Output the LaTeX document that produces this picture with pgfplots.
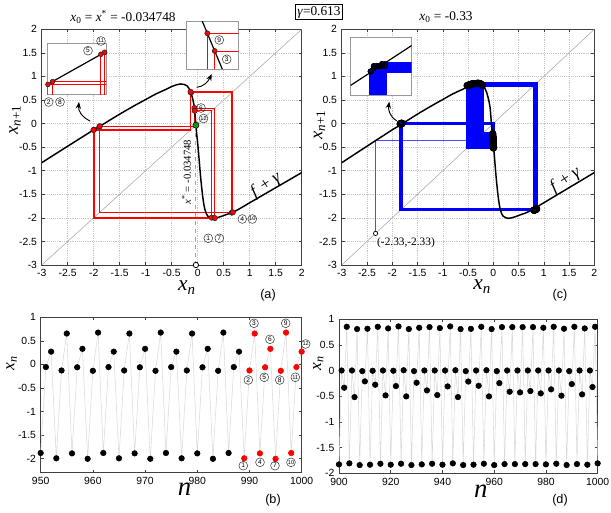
\documentclass[border=0pt]{standalone}
\usepackage{pgfplots}
\pgfplotsset{compat=1.18}
\usepackage{pgfplotstable}
\usepackage{fontspec}
\setmainfont{Liberation Serif}
\newfontfamily\arial{Liberation Sans}
\usetikzlibrary{arrows.meta}

\definecolor{dgreen}{RGB}{120,190,120}
\definecolor{gdot}{RGB}{20,150,20}

% map f + gamma
\pgfplotstableread{
x y
-3 -0.83
-2.5 -0.48
-2.0 -0.133
-1.88 -0.056
-1.5 0.2
-1.2 0.39
-1.0 0.51
-0.8 0.63
-0.6 0.73
-0.5 0.785
-0.4 0.825
-0.33 0.84
-0.26 0.83
-0.2 0.795
-0.165 0.74
-0.137 0.675
-0.13 0.655
-0.11 0.58
-0.085 0.47
-0.062 0.33
-0.057 0.27
-0.048 0.15
-0.035 -0.035
-0.02 -0.22
0 -0.42
0.03 -0.8
0.06 -1.18
0.1 -1.58
0.14 -1.83
0.19 -1.96
0.25 -2.0
0.3 -2.01
0.36 -2.0
0.45 -1.97
0.55 -1.93
0.665 -1.886
0.8 -1.81
1.0 -1.68
1.5 -1.36
2.0 -1.04
}\curve

% orbit of panel (b): n, x_n, x_{n+1}
\pgfplotstableread{
n x xn
950 -1.882 -0.057
951 -0.057 0.270
952 0.270 -1.995
953 -1.995 -0.130
954 -0.130 0.655
955 0.655 -1.890
956 -1.890 -0.062
957 -0.062 0.330
958 0.330 -2.005
959 -2.005 -0.137
960 -0.137 0.675
961 0.675 -1.882
962 -1.882 -0.057
963 -0.057 0.270
964 0.270 -1.995
965 -1.995 -0.130
966 -0.130 0.655
967 0.655 -1.890
968 -1.890 -0.062
969 -0.062 0.330
970 0.330 -2.005
971 -2.005 -0.137
972 -0.137 0.675
973 0.675 -1.882
974 -1.882 -0.057
975 -0.057 0.270
976 0.270 -1.995
977 -1.995 -0.130
978 -0.130 0.655
979 0.655 -1.890
980 -1.890 -0.062
981 -0.062 0.330
982 0.330 -2.005
983 -2.005 -0.137
984 -0.137 0.675
985 0.675 -1.882
986 -1.882 -0.057
987 -0.057 0.270
988 0.270 -1.995
989 -1.995 -0.130
990 -0.130 0.655
991 0.655 -1.890
992 -1.890 -0.062
993 -0.062 0.330
994 0.330 -2.005
995 -2.005 -0.137
996 -0.137 0.675
997 0.675 -1.882
998 -1.882 -0.057
999 -0.057 0.270
1000 0.270 nan
}\seqb

% orbit of panel (d): n, x_n, x_{n+1}
\pgfplotstableread{
n x xn
900 -1.826 0.000
901 0.000 -0.335
902 -0.335 0.850
903 0.850 -1.806
904 -1.806 0.000
905 0.000 -0.517
906 -0.517 0.806
907 0.806 -1.839
908 -1.839 -0.012
909 -0.012 -0.212
910 -0.212 0.812
911 0.812 -1.832
912 -1.832 -0.005
913 -0.005 -0.277
914 -0.277 0.850
915 0.850 -1.813
916 -1.813 0.000
917 0.000 -0.484
918 -0.484 0.818
919 0.818 -1.832
920 -1.832 -0.005
921 -0.005 -0.303
922 -0.303 0.857
923 0.857 -1.813
924 -1.813 0.005
925 0.005 -0.504
926 -0.504 0.806
927 0.806 -1.839
928 -1.839 -0.012
929 -0.012 -0.238
930 -0.238 0.831
931 0.831 -1.826
932 -1.826 0.000
933 0.000 -0.387
934 -0.387 0.844
935 0.844 -1.813
936 -1.813 0.000
937 0.000 -0.478
938 -0.478 0.825
939 0.825 -1.832
940 -1.832 0.000
941 0.000 -0.310
942 -0.310 0.857
943 0.857 -1.806
944 -1.806 0.005
945 0.005 -0.517
946 -0.517 0.806
947 0.806 -1.839
948 -1.839 -0.012
949 -0.012 -0.215
950 -0.215 0.810
951 0.810 -1.832
952 -1.832 0.000
953 0.000 -0.297
954 -0.297 0.850
955 0.850 -1.813
956 -1.813 0.005
957 0.005 -0.504
958 -0.504 0.806
959 0.806 -1.839
960 -1.839 -0.012
961 -0.012 -0.245
962 -0.245 0.844
963 0.844 -1.820
964 -1.820 0.000
965 0.000 -0.413
966 -0.413 0.844
967 0.844 -1.820
968 -1.820 0.000
969 0.000 -0.426
970 -0.426 0.844
971 0.844 -1.820
972 -1.820 0.000
973 0.000 -0.400
974 -0.400 0.844
975 0.844 -1.820
976 -1.820 0.000
977 0.000 -0.445
978 -0.445 0.831
979 0.831 -1.826
980 -1.826 0.000
981 0.000 -0.367
982 -0.367 0.850
983 0.850 -1.813
984 -1.813 0.000
985 0.000 -0.490
986 -0.490 0.812
987 0.812 -1.839
988 -1.839 -0.012
989 -0.012 -0.264
990 -0.264 0.850
991 0.850 -1.820
992 -1.820 0.000
993 0.000 -0.465
994 -0.465 0.818
995 0.818 -1.832
996 -1.832 0.000
997 0.000 -0.322
998 -0.322 0.850
999 0.850 -1.806
1000 -1.806 nan
}\seqd

\pgfplotsset{
  mbase/.style={
    scale only axis, anchor=south west,
    axis line style={black!75, line width=0.4pt},
    tick align=inside, major tick length=2.2pt,
    every tick/.style={black!75, line width=0.4pt},
    tick label style={font=\arial\fontsize{7.8}{9}\selectfont},
    /pgf/number format/assume math mode=true,
    /pgf/number format/1000 sep={},
    clip mode=individual,
  },
  mgrid/.style={grid=major, major grid style={densely dotted, gray!45, line width=0.4pt}},
  inset/.style={
    scale only axis, anchor=south west,
    xtick=\empty, ytick=\empty,
    axis line style={gray!80, line width=0.5pt},
    axis background/.style={fill=white},
  },
}
\tikzset{
  cn/.style={circle, draw=black!85, line width=0.35pt, inner sep=0pt, minimum size=6.6pt, font=\arial\fontsize{5}{5}\selectfont},
  cnn/.style={cn, font=\arial\fontsize{4.2}{4.2}\selectfont},
}

\begin{document}
\begin{tikzpicture}
\useasboundingbox (0,0) rectangle (458.25pt,384pt);

% ---------- (a) ----------
\begin{axis}[mbase, mgrid, at={(31.28pt,185.25pt)}, width=195pt, height=176.8pt,
  xmin=-3, xmax=2, ymin=-3, ymax=2,
  xtick={-3,-2.5,...,2}, ytick={-3,-2.5,...,2},
  xlabel={\textit{x}\textsubscript{\textit{n}}},
  xlabel style={at={(axis description cs:0.559,-0.095)}, anchor=center, font=\fontsize{16}{16}\selectfont},
  ylabel={\textit{x}\textsubscript{\textit{n}+1}},
  ylabel style={at={(axis description cs:-0.103,0.615)}, anchor=center, font=\fontsize{14}{14}\selectfont},
]
\addplot[gray!70, line width=0.4pt] coordinates {(-3,-3) (2,2)};
\addplot[red, line width=0.7pt, const plot] table[x=x, y=xn] {\seqb};
\addplot[black, line width=1.1pt, smooth, tension=0.5] table[x=x, y=y] {\curve};
\addplot[dgreen, dashed, line width=0.8pt] coordinates {(-0.034748,-3) (-0.034748,-0.034748)};
\addplot[only marks, mark=*, mark size=2pt, mark options={fill=red, draw=black!85, line width=0.4pt},
  restrict expr to domain={\thisrow{n}}{988:999}] table[x=x, y=xn] {\seqb};
\addplot[only marks, mark=*, mark size=2.3pt, mark options={fill=gdot, draw=black, line width=0.4pt}] coordinates {(-0.034748,-0.034748)};
\addplot[only marks, mark=*, mark size=2pt, mark options={fill=white, draw=black, line width=0.6pt}] coordinates {(-0.034748,-3)};
\end{axis}

% left inset of (a)
\begin{axis}[inset, at={(35.6pt,313.1pt)}, width=44.25pt, height=38.4pt,
  xmin=-2.006, xmax=-1.878, ymin=-0.162, ymax=-0.035]
\addplot[red, line width=0.7pt, const plot] table[x=x, y=xn] {\seqb};
\addplot[black, line width=0.9pt] coordinates {(-2.01,-0.1394) (-1.87,-0.0496)};
\addplot[only marks, mark=*, mark size=1.8pt, mark options={fill=red, draw=black!85, line width=0.4pt},
  restrict expr to domain={\thisrow{n}}{988:999}] table[x=x, y=xn] {\seqb};
\end{axis}

% right inset of (a)
\begin{axis}[inset, at={(140pt,332.25pt)}, width=38.7pt, height=35.5pt,
  xmin=-0.1565, xmax=-0.1077, ymin=0.6347, ymax=0.6881]
\addplot[red, line width=0.7pt, const plot] table[x=x, y=xn] {\seqb};
\addplot[black, line width=0.9pt] coordinates {(-0.16,0.7407) (-0.10,0.5693)};
\addplot[only marks, mark=*, mark size=1.9pt, mark options={fill=red, draw=black!85, line width=0.4pt},
  restrict expr to domain={\thisrow{n}}{988:999}] table[x=x, y=xn] {\seqb};
\end{axis}

% ---------- (c) ----------
\begin{axis}[mbase, mgrid, at={(256.3pt,185.25pt)}, width=189.45pt, height=176.8pt,
  xmin=-3, xmax=2, ymin=-3, ymax=2,
  xtick={-3,-2.5,...,2}, ytick={-3,-2.5,...,2},
  xlabel={\textit{x}\textsubscript{\textit{n}}},
  xlabel style={at={(axis description cs:0.556,-0.092)}, anchor=center, font=\fontsize{16}{16}\selectfont},
  ylabel={\textit{x}\textsubscript{\textit{n}+1}},
  ylabel style={at={(axis description cs:-0.088,0.594)}, anchor=center, font=\fontsize{14}{14}\selectfont},
]
\addplot[gray!70, line width=0.4pt] coordinates {(-3,-3) (2,2)};
\addplot[blue!70, line width=0.5pt] coordinates {(-2.33,-2.33) (-2.33,-0.35) (-0.35,-0.35)};
\addplot[blue, line width=1.6pt, const plot] table[x=x, y=xn] {\seqd};
\addplot[black, line width=1.1pt, smooth, tension=0.5] table[x=x, y=y] {\curve};
\addplot[only marks, mark=o, mark size=2.3pt, black, line width=0.8pt] table[x=x, y=xn] {\seqd};
\addplot[only marks, mark=*, mark size=1.6pt, mark options={fill=white, draw=black, line width=0.5pt}] coordinates {(-2.33,-2.33)};
\end{axis}

% inset of (c)
\begin{axis}[inset, at={(263pt,312.75pt)}, width=45.75pt, height=43.3pt,
  xmin=-1.885, xmax=-1.745, ymin=-0.065, ymax=0.065]
\addplot[blue, line width=2.6pt, const plot] table[x=x, y=xn] {\seqd};
\addplot[black, line width=0.9pt] coordinates {(-1.9,-0.053) (-1.73,0.056)};
\addplot[only marks, mark=o, mark size=1.8pt, black, line width=0.7pt] table[x=x, y=xn] {\seqd};
\end{axis}

% ---------- (b) ----------
\begin{axis}[mbase, at={(30.5pt,29.5pt)}, width=195.75pt, height=116.55pt,
  xmin=950, xmax=1000, ymin=-2.3, ymax=1,
  xtick={950,960,...,1000}, ytick={-2,-1.5,...,1},
  xlabel={\textit{n}},
  xlabel style={at={(axis description cs:0.551,-0.105)}, anchor=center, font=\fontsize{20}{20}\selectfont},
  ylabel={\textit{x}\textsubscript{\textit{n}}},
  ylabel style={at={(axis description cs:-0.111,0.706)}, anchor=center, font=\fontsize{13}{13}\selectfont},
]
\addplot[gray!30, line width=0.4pt] table[x=n, y=x] {\seqb};
\addplot[only marks, mark=*, mark size=2.1pt, black, restrict expr to domain={\thisrow{n}}{950:988}] table[x=n, y=x] {\seqb};
\addplot[only marks, mark=*, mark size=2.1pt, red, restrict expr to domain={\thisrow{n}}{989:1000}] table[x=n, y=x] {\seqb};
\end{axis}

% ---------- (d) ----------
\begin{axis}[mbase, at={(254.25pt,29pt)}, width=194pt, height=115.7pt,
  xmin=900, xmax=1000, ymin=-2, ymax=1,
  xtick={900,920,...,1000}, ytick={-2,-1.5,...,1},
  xlabel={\textit{n}},
  xlabel style={at={(axis description cs:0.548,-0.115)}, anchor=center, font=\fontsize{20}{20}\selectfont},
  ylabel={\textit{x}\textsubscript{\textit{n}}},
  ylabel style={at={(axis description cs:-0.08,0.713)}, anchor=center, font=\fontsize{13}{13}\selectfont},
]
\addplot[gray!30, line width=0.4pt] table[x=n, y=x] {\seqd};
\addplot[only marks, mark=*, mark size=2.1pt, black] table[x=n, y=x] {\seqd};
\end{axis}

% ---------- annotations, in pixel units of the reference ----------
\begin{scope}[x=0.75pt, y=-0.75pt, shift={(0pt,384pt)}]
\node[font=\fontsize{10}{12}\selectfont] at (123,17) {\textit{x}\textsubscript{0} = \textit{x}\textsuperscript{*} = -0.034748};
\node[font=\fontsize{10}{12}\selectfont, draw, line width=0.6pt, inner sep=1.5pt] at (319,12) {\textit{γ}=0.613};
\node[font=\fontsize{10}{12}\selectfont] at (446,17) {\textit{x}\textsubscript{0} = -0.33};
\node[rotate=90, font=\fontsize{8}{9}\selectfont] at (186.5,172) {\textit{x}\textsuperscript{*} = -0.034748};
\node[rotate=33, font=\fontsize{13}{13}\selectfont] at (266,185) {\textit{f} + \textit{γ}};
\node[rotate=33, font=\fontsize{13}{13}\selectfont] at (565.5,180) {\textit{f} + \textit{γ}};
\node[font=\fontsize{8.5}{10}\selectfont] at (406,243) {(-2.33,-2.33)};
\node[font=\arial\fontsize{9.5}{11}\selectfont] at (268,295) {(a)};
\node[font=\arial\fontsize{9.5}{11}\selectfont] at (560,295) {(c)};
\node[font=\arial\fontsize{9.5}{11}\selectfont] at (273,500) {(b)};
\node[font=\arial\fontsize{9.5}{11}\selectfont] at (560,500) {(d)};
% arrows
\draw[-{Stealth[length=5pt,width=4pt]}, line width=0.7pt] (90,121) .. controls (82,117) and (78,111) .. (79,102);
\draw[-{Stealth[length=5pt,width=4pt]}, line width=0.7pt] (196.7,87.3) .. controls (203,87) and (208,82) .. (211.7,74);
\draw[-{Stealth[length=5pt,width=4pt]}, line width=0.7pt] (396.7,120.7) .. controls (390,117) and (388,110) .. (389.3,101.7);
% circled numbers in (a)
\node[cn] at (48.7,102) {2};
\node[cn] at (60,102) {8};
\node[cn] at (88,50.7) {5};
\node[cnn] at (101,41) {11};
\node[cn] at (219.3,40) {9};
\node[cn] at (226.7,59.3) {3};
\node[cn] at (201,108) {6};
\node[cnn] at (203.5,118.5) {12};
\node[cn] at (208.3,238.3) {1};
\node[cn] at (219.3,238.3) {7};
\node[cn] at (242.3,219) {4};
\node[cnn] at (252.3,219) {10};
% circled numbers in (b)
\node[cn] at (243.3,465.7) {1};
\node[cn] at (248.3,380) {2};
\node[cn] at (254,323.3) {3};
\node[cn] at (260,462.3) {4};
\node[cn] at (264.3,377.3) {5};
\node[cn] at (270,339.3) {6};
\node[cn] at (275,465.7) {7};
\node[cn] at (279.7,380) {8};
\node[cn] at (285.7,323.3) {9};
\node[cnn] at (291,462.3) {10};
\node[cnn] at (295.3,377.3) {11};
\node[cnn] at (305.7,344) {12};
\end{scope}
\end{tikzpicture}
\end{document}
